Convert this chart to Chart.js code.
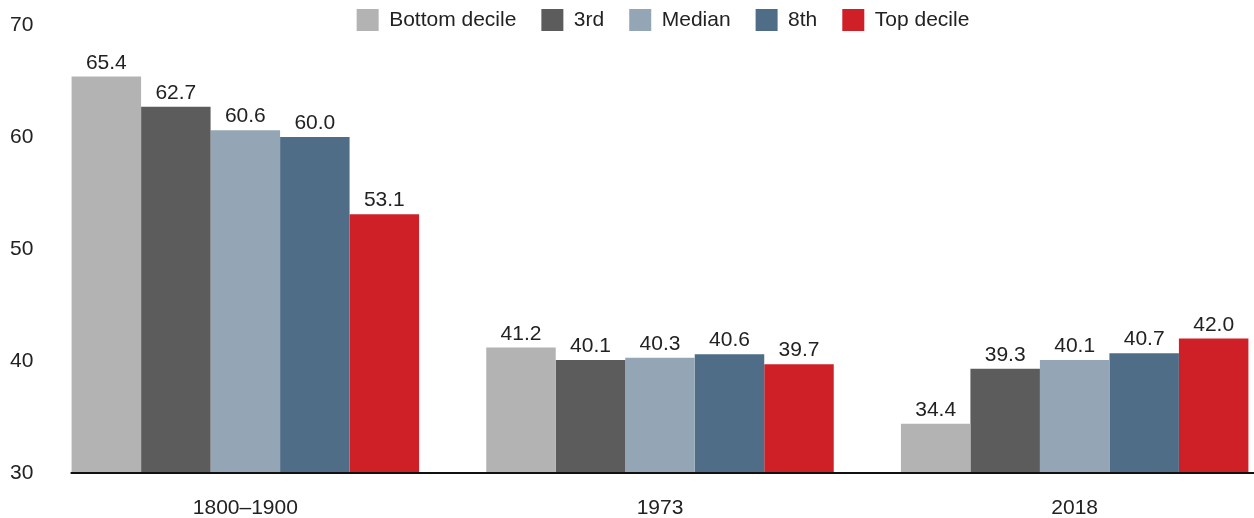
<!DOCTYPE html>
<html>
<head>
<meta charset="utf-8">
<script src="https://cdn.jsdelivr.net/npm/chart.js@4"></script>
<style>
  html, body { margin: 0; padding: 0; overflow: hidden; background: #fff; }
</style>
</head>
<body>
<canvas id="incomeChart" width="1288" height="518"></canvas>
<script>
// 資料
const categories = ['1800–1900', '1973', '2018'];
const seriesNames = ['Bottom decile', '3rd', 'Median', '8th', 'Top decile'];
const bottomDecile = [65.4, 41.2, 34.4];
const third = [62.7, 40.1, 39.3];
const median = [60.6, 40.3, 40.1];
const eighth = [60.0, 40.6, 40.7];
const topDecile = [53.1, 39.7, 42.0];
const yTicks = [30, 40, 50, 60, 70];

const colors = ['#b3b3b3', '#5c5c5c', '#94a6b6', '#4f6d87', '#cf2027'];
const seriesValues = [bottomDecile, third, median, eighth, topDecile];

Chart.defaults.font.family = '"Liberation Sans", Arial, sans-serif';
Chart.defaults.color = '#222';

// 柱子上方的數值
const valueLabels = {
    id: 'valueLabels',
    afterDatasetsDraw(chart) {
        const ctx = chart.ctx;
        ctx.save();
        ctx.font = '21px "Liberation Sans", Arial, sans-serif';
        ctx.fillStyle = '#222';
        ctx.textAlign = 'center';
        ctx.textBaseline = 'alphabetic';
        chart.data.datasets.forEach((ds, i) => {
            chart.getDatasetMeta(i).data.forEach((bar, j) => {
                ctx.fillText(ds.data[j].toFixed(1), bar.x, bar.y - 8);
            });
        });
        ctx.restore();
    }
};

// 底線（從第一根柱子開始）
const baseLine = {
    id: 'baseLine',
    afterDatasetsDraw(chart) {
        const ctx = chart.ctx;
        const first = chart.getDatasetMeta(0).data[0];
        const x0 = first.x - first.width / 2 - 1;
        const y = chart.scales.y.getPixelForValue(yTicks[0]);
        ctx.save();
        ctx.fillStyle = '#111';
        ctx.fillRect(x0, y - 1, chart.width - x0, 2);
        ctx.restore();
    }
};

// 圖例不佔空間，畫在最上面
const legendTop = {
    id: 'legendTop',
    beforeInit(chart) {
        const fit = chart.legend.fit;
        chart.legend.fit = function () {
            fit.bind(chart.legend)();
            this.height = 0;
        };
    },
    afterLayout(chart) {
        chart.legend.top = -16;
        chart.legend.bottom = 60;
        chart.legend.left += 17;
        chart.legend.right += 17;
    }
};

new Chart(document.getElementById('incomeChart'), {
    type: 'bar',
    data: {
        labels: categories,
        datasets: seriesNames.map((name, i) => ({
            label: name,
            data: seriesValues[i],
            backgroundColor: colors[i],
            borderWidth: 0,
            categoryPercentage: 0.838,
            barPercentage: 1.0
        }))
    },
    options: {
        responsive: false,
        animation: false,
        layout: {
            padding: { left: 10, right: 6, top: 25, bottom: 0 }
        },
        scales: {
            x: {
                offset: true,
                grid: { display: false },
                border: { display: false },
                ticks: { font: { size: 21 }, color: '#222', padding: 15 },
                afterFit(scale) { scale.height = 45; }
            },
            y: {
                min: 30,
                max: 70,
                grid: { display: false, drawTicks: false },
                border: { display: false },
                ticks: { font: { size: 21 }, color: '#222', padding: 0, crossAlign: 'far' },
                afterBuildTicks(scale) { scale.ticks = yTicks.map(v => ({ value: v })); },
                afterFit(scale) { scale.width = 28; }
            }
        },
        plugins: {
            legend: {
                position: 'top',
                align: 'center',
                labels: {
                    boxWidth: 22,
                    boxHeight: 22,
                    padding: 25,
                    color: '#222',
                    font: { size: 21 }
                }
            },
            tooltip: { enabled: false }
        }
    },
    plugins: [valueLabels, baseLine, legendTop]
});
</script>
</body>
</html>
